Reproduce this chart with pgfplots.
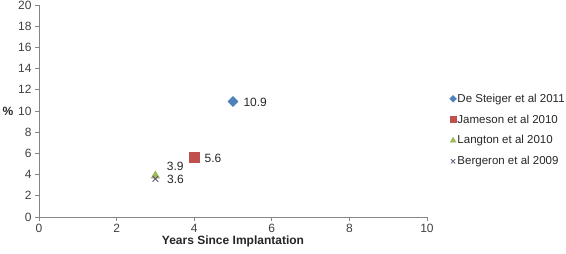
\documentclass[border=0pt]{standalone}
\usepackage{pgfplots}
\pgfplotsset{compat=1.18}
\usepackage{fontspec}
\setmainfont{Liberation Sans}
\definecolor{xblue}{HTML}{4F81BD}
\definecolor{xred}{HTML}{C0504D}
\definecolor{xgreen}{HTML}{9BBB59}
\definecolor{xpurple}{HTML}{8064A2}
\definecolor{axgray}{HTML}{868686}
\begin{document}
\begin{tikzpicture}[x=1pt,y=1pt]
\path[use as bounding box] (0,0) rectangle (566,254);
\begin{axis}[
  at={(39pt,37pt)}, anchor=origin,
  scale only axis, width=388pt, height=212pt,
  xmin=0, xmax=10, ymin=0, ymax=20,
  xtick={0,2,...,10}, ytick={0,2,...,20},
  axis x line=bottom, axis y line=left,
  axis line style={-, draw=axgray, line width=0.8pt},
  tick style={draw=axgray, line width=0.8pt},
  major tick length=4pt,
  xtick align=outside, ytick align=outside,
  tick label style={font=\fontsize{12}{14}\selectfont, text=black!75},
  /pgf/number format/assume math mode=true,
  xlabel={\textbf{Years Since Implantation}},
  xlabel style={font=\fontsize{12}{14}\selectfont, text=black!85, yshift=4pt},
  ylabel={\textbf{\%}},
  ylabel style={font=\fontsize{12}{14}\selectfont, rotate=-90, text=black!85, anchor=west, at={(rel axis cs:0,0.5)}, xshift=-40pt, yshift=0pt},
  clip=false,
  legend style={at={(1.058,0.41)}, anchor=west, draw=none, fill=none,
    font=\fontsize{11.5}{13.5}\selectfont, row sep=9pt, inner sep=0pt,
    nodes={inner sep=1pt, text=black!85}},
  legend cell align=left,
  legend image code/.code={\draw[#1] plot coordinates {(0.1em,0cm)};},
  nodes near coords={\pgfmathprintnumber[fixed, precision=1, fixed zerofill]{\pgfplotspointmeta}},
  every node near coord/.append style={font=\fontsize{12}{14}\selectfont, text=black!85},
]
\addplot[only marks, mark=square*, mark size=3.6pt, color=xblue, mark options={fill=xblue, draw=xblue, rotate=45},
  every node near coord/.append style={anchor=west, xshift=7pt, yshift=-1pt},
  legend image post style={mark size=2.4pt}]
  coordinates {(5,10.9)};
\addlegendentry{De Steiger et al 2011}
\addplot[only marks, mark=square*, mark size=5pt, color=xred, mark options={fill=xred, draw=xred},
  every node near coord/.append style={anchor=west, xshift=7pt, yshift=-1pt},
  legend image post style={mark size=3pt}]
  coordinates {(4,5.6)};
\addlegendentry{Jameson et al 2010}
\addplot[only marks, mark=triangle*, mark size=4.8pt, color=xgreen, mark options={fill=xgreen, draw=xgreen},
  every node near coord/.append style={anchor=west, xshift=8pt, yshift=9pt},
  legend image post style={mark size=3.3pt}]
  coordinates {(3,3.9)};
\addlegendentry{Langton et al 2010}
\addplot[only marks, mark=x, mark size=4pt, color=xpurple, mark options={draw=xpurple!80!black, line width=0.8pt},
  every node near coord/.append style={anchor=west, xshift=8pt, yshift=-1pt},
  legend image post style={mark size=3pt, draw=xpurple}]
  coordinates {(3,3.6)};
\addlegendentry{Bergeron et al 2009}
\end{axis}
\end{tikzpicture}
\end{document}
